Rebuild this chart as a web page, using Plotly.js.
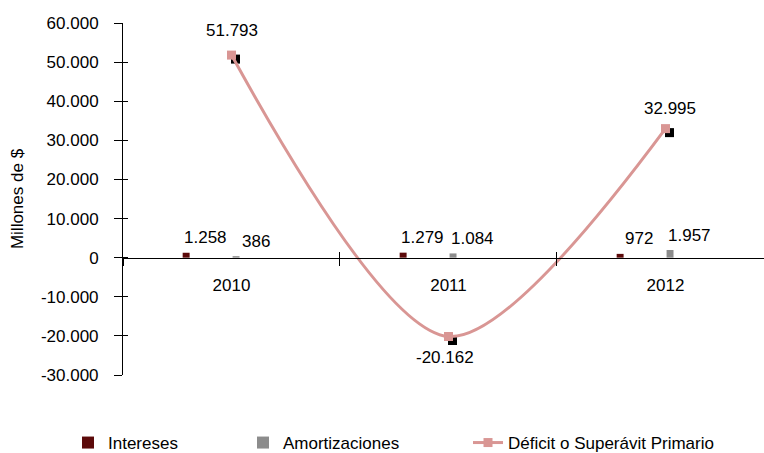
<!DOCTYPE html>
<html>
<head>
<meta charset="utf-8">
<script src="https://cdn.plot.ly/plotly-3.0.1.min.js"></script>
<style>html,body{margin:0;padding:0;background:#fff;}#chart{width:764px;height:453px;}</style>
</head>
<body>
<div id="chart"></div>
<script>
// ---- data ----
const years = ['2010', '2011', '2012'];
const intereses = [1258, 1279, 972];
const amortizaciones = [386, 1084, 1957];
const deficit = [51793, -20162, 32995];
const yTickVals = [-30000, -20000, -10000, 0, 10000, 20000, 30000, 40000, 50000, 60000];
const yTickText = ['-30.000', '-20.000', '-10.000', '0', '10.000', '20.000', '30.000', '40.000', '50.000', '60.000'];
const seriesNames = ['Intereses', 'Amortizaciones', 'Déficit o Superávit Primario'];

// ---- styles ----
const FONT = 'Liberation Sans, Arial, sans-serif';
const FS = 17;
const W = 764, H = 453;
const M = {l: 123, r: 0, t: 23, b: 78};
const PW = W - M.l - M.r, PH = H - M.t - M.b;
const xRange = [-0.5, 2.454];
const yRange = [yTickVals[0], yTickVals[yTickVals.length - 1]];
const pxPerCat = PW / (xRange[1] - xRange[0]);
const pxPerUnit = PH / (yRange[1] - yRange[0]);
const zeroPos = (0 - yRange[0]) / (yRange[1] - yRange[0]);
const shadow = 4; // px
const xRangeShadow = [xRange[0] - shadow / pxPerCat, xRange[1] - shadow / pxPerCat];
const yRangeShadow = [yRange[0] + shadow / pxPerUnit, yRange[1] + shadow / pxPerUnit];

const COL_INT = '#5c0a0a';
const COL_AMO = '#8c8c8c';
const COL_LINE = '#d99694';

const barW = 0.032;
const intCenter = -0.209, amoCenter = 0.021;

function fmt(n) {
  return String(n).replace(/\B(?=(\d{3})+(?!\d))/g, '.');
}

const traces = [
  {
    type: 'bar', name: seriesNames[0], x: years, y: intereses,
    marker: {color: COL_INT}, width: barW, offset: intCenter - barW / 2,
    xaxis: 'x', yaxis: 'y', legend: 'legend', hoverinfo: 'skip'
  },
  {
    type: 'bar', name: seriesNames[1], x: years, y: amortizaciones,
    marker: {color: COL_AMO}, width: barW, offset: amoCenter - barW / 2,
    xaxis: 'x', yaxis: 'y', legend: 'legend2', hoverinfo: 'skip'
  },
  {
    type: 'scatter', mode: 'markers', x: years, y: deficit, showlegend: false,
    marker: {symbol: 'square', size: 9, color: '#000000'},
    xaxis: 'x2', yaxis: 'y2', hoverinfo: 'skip'
  },
  {
    type: 'scatter', mode: 'lines+markers', name: seriesNames[2], x: years, y: deficit,
    line: {color: COL_LINE, width: 3, shape: 'spline', smoothing: 0.85},
    marker: {symbol: 'square', size: 9, color: COL_LINE},
    xaxis: 'x3', yaxis: 'y3', legend: 'legend3', hoverinfo: 'skip'
  }
];

const annotations = [];
const intShift = Math.round(intCenter * pxPerCat) + 19;
const amoShift = Math.round(amoCenter * pxPerCat) + 19;
const labelFont = {family: FONT, size: FS, color: '#000'};
years.forEach((yr, i) => {
  annotations.push({x: i, y: intereses[i], xref: 'x', yref: 'y', text: fmt(intereses[i]),
    showarrow: false, xshift: intShift, yshift: 15, yanchor: 'middle', font: labelFont});
  annotations.push({x: i, y: amortizaciones[i], xref: 'x', yref: 'y', text: fmt(amortizaciones[i]),
    showarrow: false, xshift: amoShift, yshift: 15, yanchor: 'middle', font: labelFont});
});
const lineLabelShift = [[0, 25], [-3, -21], [5, 20]];
years.forEach((yr, i) => {
  annotations.push({x: i, y: deficit[i], xref: 'x', yref: 'y', text: fmt(deficit[i]),
    showarrow: false, xshift: lineLabelShift[i][0], yshift: lineLabelShift[i][1], yanchor: 'middle',
    font: labelFont});
});

const legendBase = {orientation: 'h', yref: 'container', xref: 'container', yanchor: 'middle',
  y: 1 - 443 / H, xanchor: 'left', font: {family: FONT, size: FS, color: '#000'},
  bgcolor: 'rgba(0,0,0,0)'};

const layout = {
  width: W, height: H,
  margin: M,
  paper_bgcolor: '#fff', plot_bgcolor: '#fff',
  font: {family: FONT, size: FS, color: '#000'},
  separators: ',.',
  barmode: 'overlay',
  showlegend: true,
  legend: Object.assign({}, legendBase, {x: 68 / W}),
  legend2: Object.assign({}, legendBase, {x: 243 / W}),
  legend3: Object.assign({}, legendBase, {x: 468 / W}),
  xaxis: {
    type: 'category', categoryorder: 'array', categoryarray: years,
    range: xRange, anchor: 'free', position: zeroPos,
    showline: true, linecolor: '#000', linewidth: 1,
    ticks: 'outside', tickson: 'boundaries', ticklen: 7, tickcolor: '#000', tickwidth: 1,
    showgrid: false, zeroline: false, ticklabelstandoff: 12,
    tickfont: {family: FONT, size: FS, color: '#000'}, fixedrange: true
  },
  yaxis: {
    range: yRange, tickmode: 'array', tickvals: yTickVals, ticktext: yTickText,
    showline: true, linecolor: '#000', linewidth: 1,
    ticks: 'outside', ticklen: 8, tickcolor: '#000', tickwidth: 1,
    showgrid: false, zeroline: false, ticklabelstandoff: 12,
    tickfont: {family: FONT, size: FS, color: '#000'},
    title: {text: 'Millones de $', font: {family: FONT, size: FS, color: '#000'}, standoff: 12},
    fixedrange: true
  },
  xaxis2: {type: 'category', categoryorder: 'array', categoryarray: years,
    range: xRangeShadow, overlaying: 'x', anchor: 'y2', visible: false, fixedrange: true},
  yaxis2: {range: yRangeShadow, overlaying: 'y', anchor: 'x2', visible: false, fixedrange: true},
  xaxis3: {type: 'category', categoryorder: 'array', categoryarray: years,
    range: xRange, overlaying: 'x', anchor: 'free', position: zeroPos,
    showline: false, showgrid: false, zeroline: false, showticklabels: false,
    ticks: 'inside', tickson: 'boundaries', ticklen: 6, tickcolor: '#000', fixedrange: true},
  yaxis3: {range: yRange, overlaying: 'y', anchor: 'x3', tickmode: 'array', tickvals: yTickVals,
    showline: false, showgrid: false, zeroline: false, showticklabels: false,
    ticks: 'inside', ticklen: 5, tickcolor: '#000', fixedrange: true},
  annotations: annotations
};

Plotly.newPlot('chart', traces, layout, {staticPlot: true, displayModeBar: false});
</script>
</body>
</html>
